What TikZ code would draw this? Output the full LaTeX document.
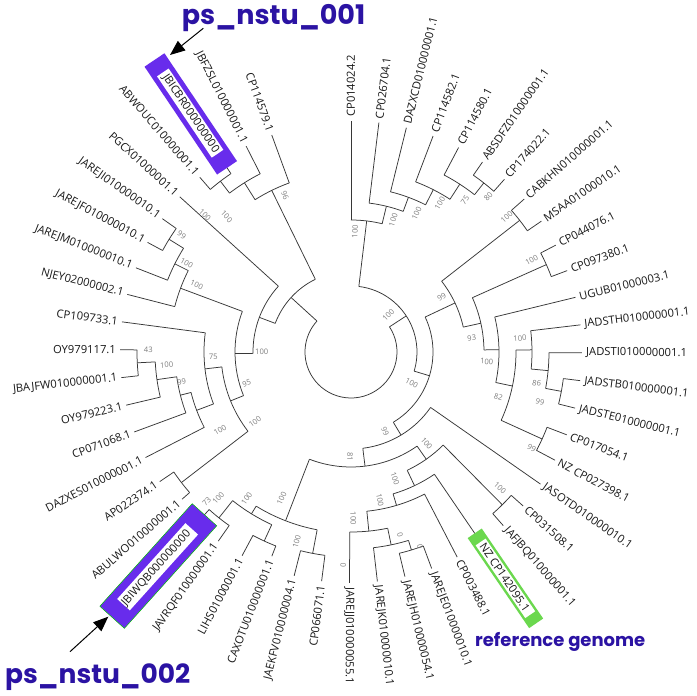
\documentclass[tikz,border=0pt]{standalone}
\usepackage{fontspec}
\setmainfont{Open Sans}
\newfontfamily\titlefont{Poppins}
\usetikzlibrary{arrows.meta}
\definecolor{titleblue}{RGB}{43,19,163}
\definecolor{boxpurple}{RGB}{104,44,236}
\definecolor{boxgreen}{RGB}{107,216,78}
\definecolor{treeline}{RGB}{55,55,55}
\definecolor{bootgray}{RGB}{125,125,125}
\definecolor{leafcol}{RGB}{25,25,25}
\tikzset{
  treebranch/.style={draw=treeline, line width=0.75pt},
  leaflab/.style={inner sep=0pt, text=leafcol, font=\fontsize{11.2}{13}\selectfont},
  bootlab/.style={inner sep=0pt, text=bootgray, font=\fontsize{7.6}{9}\selectfont},
  titletext/.style={inner sep=0pt, text=titleblue},
  callout/.style={draw=black, line width=1pt, -{Triangle[length=15pt,width=12pt]}},
  hibox/.style={inner sep=0pt, outer sep=0pt}
}
\newcommand\tbr[3]{\draw[treebranch] (#1:#2pt) -- (#1:#3pt);}
\newcommand\tarc[3]{\draw[treebranch] (#1:#3pt) arc[start angle=#1, end angle=#2, radius=#3pt];}
\newcommand\leaf[4]{%
  \pgfmathsetmacro\lside{(#2>-91)?1:0}%
  \ifdim\lside pt>0.5pt
    \node[leaflab, rotate=#2, anchor=west] (#1) at (#2:#4pt) {#3};%
  \else
    \node[leaflab, rotate=#2+180, anchor=east] (#1) at (#2:#4pt) {#3};%
  \fi}
\newcommand\boot[4]{%
  \pgfmathsetmacro\bang{atan2(352-#3,#2-351)}%
  \pgfmathsetmacro\brot{\bang>90 ? \bang-180 : (\bang<-91 ? \bang+180 : \bang)}%
  \node[bootlab, rotate=\brot] (#1) at ({#2-351},{352-#3}) {#4};}
\begin{document}
\begin{tikzpicture}[x=1pt,y=1pt]
\fill[white] (-351,-344) rectangle (346,352);
\useasboundingbox (-351,-344) rectangle (346,352);
% ---------------- tree ----------------
\tarc{33.16}{-222.29}{46}
% clade A
\tbr{33.16}{46}{66} \tarc{83.17}{-16.85}{66}
\tbr{83.17}{66}{132} \tarc{90}{76.35}{132}
\tbr{90}{132}{231}
\tbr{76.35}{132}{150} \tarc{83.06}{69.63}{150}
\tbr{83.06}{150}{231}
\tbr{69.63}{150}{165} \tarc{76.13}{63.12}{165}
\tbr{76.13}{165}{231}
\tbr{63.12}{165}{182} \tarc{69.19}{57.05}{182}
\tbr{69.19}{182}{231}
\tbr{57.05}{182}{200} \tarc{62.25}{51.85}{200}
\tbr{62.25}{200}{231}
\tbr{51.85}{200}{215} \tarc{55.31}{48.38}{215}
\tbr{55.31}{215}{231} \tbr{48.38}{215}{231}
\tbr{-16.85}{66}{82} \tarc{25.24}{-58.94}{82}
\tbr{25.24}{82}{115} \tarc{37.97}{12.5}{115}
\tbr{37.97}{115}{214} \tarc{41.44}{34.5}{214}
\tbr{41.44}{214}{231} \tbr{34.5}{214}{231}
\tbr{12.5}{115}{133} \tarc{24.1}{0.9}{133}
\tbr{24.1}{133}{214} \tarc{27.56}{20.63}{214}
\tbr{27.56}{214}{231} \tbr{20.63}{214}{231}
\tbr{0.9}{133}{148} \tarc{13.69}{-11.9}{148}
\tbr{13.69}{148}{231}
\tbr{-11.9}{148}{165} \tarc{0.68}{-24.47}{165}
\tbr{0.68}{165}{181} \tarc{6.75}{-5.4}{181}
\tbr{6.75}{181}{231}
\tbr{-5.4}{181}{198} \tarc{-0.19}{-10.6}{198}
\tbr{-0.19}{198}{231}
\tbr{-10.6}{198}{214} \tarc{-7.13}{-14.06}{214}
\tbr{-7.13}{214}{231} \tbr{-14.06}{214}{231}
\tbr{-24.47}{165}{210} \tarc{-21}{-27.94}{210}
\tbr{-21}{210}{231} \tbr{-27.94}{210}{231}
\tbr{-58.94}{82}{97} \tarc{-34.88}{-83.0}{97}
\tbr{-34.88}{97}{231}
\tbr{-83.0}{97}{115} \tarc{-54.93}{-111.19}{115}
\tbr{-54.93}{115}{131} \tarc{-45.28}{-64.58}{131}
\tbr{-45.28}{131}{215} \tarc{-41.81}{-48.75}{215}
\tbr{-41.81}{215}{231} \tbr{-48.75}{215}{231}
\tbr{-64.58}{131}{148} \tarc{-55.69}{-73.47}{148}
\tbr{-55.69}{148}{231}
\tbr{-73.47}{148}{160} \tarc{-62.63}{-84.31}{160}
\tbr{-62.63}{160}{231}
\tbr{-84.31}{160}{180} \tarc{-78.24}{-90.38}{180}
\tbr{-90.38}{180}{231}
\tbr{-78.24}{180}{197} \tarc{-73.03}{-83.44}{197}
\tbr{-83.44}{197}{231}
\tbr{-73.03}{197}{207} \tarc{-69.56}{-76.5}{207}
\tbr{-69.56}{207}{231} \tbr{-76.5}{207}{231}
\tbr{-111.19}{115}{181} \tarc{-100.78}{-121.6}{181}
\tbr{-100.78}{181}{205} \tarc{-97.31}{-104.25}{205}
\tbr{-97.31}{205}{231} \tbr{-104.25}{205}{231}
\tbr{-121.6}{181}{190} \tarc{-114.66}{-128.53}{190}
\tbr{-114.66}{190}{208} \tarc{-111.19}{-118.13}{208}
\tbr{-111.19}{208}{219} \tbr{-118.13}{208}{231}
\tbr{-128.53}{190}{212} \tarc{-125.06}{-132}{212}
\tbr{-125.06}{212}{231} \tbr{-132}{212}{231}
% clade B
\tbr{-222.29}{46}{81} \tarc{-243.87}{-200.7}{81}
\tbr{-243.87}{81}{180} \tarc{-237.8}{-249.94}{180}
\tbr{-249.94}{180}{231}
\tbr{-237.8}{180}{200} \tarc{-232.6}{-243}{200}
\tbr{-243}{200}{231}
\tbr{-232.6}{200}{215} \tarc{-229.13}{-236.06}{215}
\tbr{-229.13}{215}{231} \tbr{-236.06}{215}{231}
\tbr{-200.7}{81}{98} \tarc{-222.19}{-179.2}{98}
\tbr{-222.19}{98}{231}
\tbr{-179.2}{98}{116} \tarc{-200.51}{-157.9}{116}
\tbr{-200.51}{116}{182} \tarc{-194.44}{-206.58}{182}
\tbr{-194.44}{182}{231}
\tbr{-206.58}{182}{197} \tarc{-201.38}{-211.78}{197}
\tbr{-201.38}{197}{231}
\tbr{-211.78}{197}{214} \tarc{-208.31}{-215.25}{214}
\tbr{-208.31}{214}{231} \tbr{-215.25}{214}{231}
\tbr{-157.9}{116}{130} \tarc{-173.4}{-142.41}{130}
\tbr{-173.4}{130}{147} \tarc{-187.5}{-159.3}{147}
\tbr{-187.5}{147}{231}
\tbr{-159.3}{147}{165} \tarc{-165.8}{-152.81}{165}
\tbr{-152.81}{165}{231}
\tbr{-165.8}{165}{176} \tarc{-159.75}{-171.9}{176}
\tbr{-159.75}{176}{231}
\tbr{-171.9}{176}{196} \tarc{-166.69}{-177.1}{196}
\tbr{-166.69}{196}{231}
\tbr{-177.1}{196}{214} \tarc{-173.63}{-180.56}{214}
\tbr{-173.63}{214}{231} \tbr{-180.56}{214}{231}
\tbr{-142.41}{130}{214} \tarc{-145.88}{-138.94}{214}
\tbr{-145.88}{214}{231} \tbr{-138.94}{214}{224}
% ---------------- highlight boxes ----------------
\node[hibox, fill=boxpurple, minimum width=130pt, minimum height=24pt, rotate=-56.06] (bx1) at (-236.06:287pt) {};
\node[hibox, fill=white, minimum width=98pt, minimum height=14pt, rotate=-56.06] (bx1i) at (-236.06:288pt) {};
\node[hibox, fill=boxpurple, draw=green!75!black, line width=0.5pt, minimum width=138pt, minimum height=33pt, rotate=48] (bx2) at (-132:288pt) {};
\node[hibox, fill=white, minimum width=102pt, minimum height=17pt, rotate=48] (bx2i) at (-132:289pt) {};
\node[hibox, fill=boxgreen, minimum width=109pt, minimum height=17pt, rotate=-55.69] (bx3) at (-55.69:274pt) {};
\node[hibox, fill=white, minimum width=88pt, minimum height=12pt, rotate=-55.69] (bx3i) at (-55.69:274pt) {};
% ---------------- leaf labels ----------------
\leaf{l1}{90}{CP014024.2}{235}
\leaf{l2}{83.06}{CP026704.1}{235}
\leaf{l3}{76.13}{DAZXCD010000001.1}{235}
\leaf{l4}{69.19}{CP114582.1}{235}
\leaf{l5}{62.25}{CP114580.1}{235}
\leaf{l6}{55.31}{ABSDFZ010000001.1}{235}
\leaf{l7}{48.38}{CP174022.1}{235}
\leaf{l8}{41.44}{CABKHN010000001.1}{235}
\leaf{l9}{34.5}{MSAA01000010.1}{235}
\leaf{l10}{27.56}{CP044076.1}{235}
\leaf{l11}{20.63}{CP097380.1}{235}
\leaf{l12}{13.69}{UGUB01000003.1}{235}
\leaf{l13}{6.75}{JADSTH010000001.1}{235}
\leaf{l14}{-0.19}{JADSTI010000001.1}{235}
\leaf{l15}{-7.13}{JADSTB010000001.1}{235}
\leaf{l16}{-14.06}{JADSTE010000001.1}{235}
\leaf{l17}{-21}{CP017054.1}{235}
\leaf{l18}{-27.94}{NZ CP027398.1}{235}
\leaf{l19}{-34.88}{JASOTD010000010.1}{235}
\leaf{l20}{-41.81}{CP031508.1}{235}
\leaf{l21}{-48.75}{JAFJBQ010000001.1}{235}
\leaf{l22}{-55.69}{NZ CP142095.1}{233}
\leaf{l23}{-62.63}{CP003488.1}{235}
\leaf{l24}{-69.56}{JAREJE010000010.1}{235}
\leaf{l25}{-76.5}{JAREJH010000054.1}{235}
\leaf{l26}{-83.44}{JAREJK010000010.1}{235}
\leaf{l27}{-90.38}{JAREJJ010000055.1}{235}
\leaf{l28}{-97.31}{CP066071.1}{235}
\leaf{l29}{-104.25}{JAEKFV010000004.1}{235}
\leaf{l30}{-111.19}{CAXOTU010000001.1}{223}
\leaf{l31}{-118.13}{LIHS01000001.1}{235}
\leaf{l32}{-125.06}{JAVRQF010000001.1}{235}
\leaf{l33}{-132}{JBIWQB000000000}{242}
\leaf{l34}{-138.94}{ABULWO010000001.1}{228}
\leaf{l35}{-145.88}{AP022374.1}{235}
\leaf{l36}{-152.81}{DAZXES010000001.1}{235}
\leaf{l37}{-159.75}{CP071068.1}{235}
\leaf{l38}{-166.69}{OY979223.1}{235}
\leaf{l39}{-173.63}{JBAJFW010000001.1}{235}
\leaf{l40}{-180.56}{OY979117.1}{235}
\leaf{l41}{-187.5}{CP109733.1}{235}
\leaf{l42}{-194.44}{NJEY02000002.1}{235}
\leaf{l43}{-201.38}{JAREJM010000010.1}{235}
\leaf{l44}{-208.31}{JAREJF010000010.1}{235}
\leaf{l45}{-215.25}{JAREJI010000010.1}{235}
\leaf{l46}{-222.19}{PGCX01000001.1}{235}
\leaf{l47}{-229.13}{ABWOUC010000001.1}{235}
\leaf{l48}{-236.06}{JBICBR000000000}{241}
\leaf{l49}{-243}{JBFZSL010000001.1}{235}
\leaf{l50}{-249.94}{CP114579.1}{235}
% ---------------- bootstrap values ----------------
\boot{b1}{355}{231.7}{100}
\boot{b2}{393.3}{220}{100}
\boot{b3}{416.7}{213.3}{100}
\boot{b4}{440}{203.3}{100}
\boot{b5}{465}{200}{75}
\boot{b6}{488.3}{196.7}{80}
\boot{b7}{506.7}{216.7}{100}
\boot{b8}{441.7}{297.3}{99}
\boot{b9}{531.7}{260}{100}
\boot{b10}{471.7}{338.3}{93}
\boot{b11}{486.7}{361.7}{100}
\boot{b12}{498.3}{396.7}{82}
\boot{b13}{520}{338.3}{100}
\boot{b14}{536.7}{383.3}{86}
\boot{b15}{540}{401.7}{99}
\boot{b16}{531.7}{448.3}{99}
\boot{b17}{388.3}{315}{100}
\boot{b18}{411.7}{383.3}{100}
\boot{b19}{385}{431.7}{99}
\boot{b20}{350}{456.7}{81}
\boot{b21}{426.7}{443.3}{100}
\boot{b22}{500}{488.3}{100}
\boot{b23}{395}{478.3}{100}
\boot{b24}{380}{500}{100}
\boot{b25}{353.3}{518.3}{100}
\boot{b26}{400}{535}{0}
\boot{b27}{420}{546.7}{0}
\boot{b28}{343.3}{565}{0}
\boot{b29}{281.7}{498.3}{100}
\boot{b30}{296.7}{541.7}{100}
\boot{b31}{246.7}{498.3}{100}
\boot{b32}{218.3}{498.3}{100}
\boot{b33}{206.7}{501.7}{73}
\boot{b34}{220}{430}{100}
\boot{b35}{255}{421.7}{100}
\boot{b36}{246.7}{383.3}{95}
\boot{b37}{213.3}{356.7}{75}
\boot{b38}{181.7}{381.7}{99}
\boot{b39}{166.7}{365}{100}
\boot{b40}{148.3}{350}{43}
\boot{b41}{261.7}{351.7}{100}
\boot{b42}{196.7}{285}{100}
\boot{b43}{186.7}{263.3}{100}
\boot{b44}{181.7}{235}{99}
\boot{b45}{205}{215}{100}
\boot{b46}{226.7}{216.7}{100}
\boot{b47}{285}{195}{96}
% ---------------- titles and callouts ----------------
\node[titletext, anchor=base west, font={\titlefont\bfseries\fontsize{27}{32}\selectfont}] (t1) at (-169.3,327) {ps\_nstu\_001};
\node[titletext, anchor=base west, font={\titlefont\bfseries\fontsize{26.5}{31}\selectfont}] (t2) at (-346,-331) {ps\_nstu\_002};
\node[titletext, anchor=base west, font={\titlefont\bfseries\fontsize{18}{21}\selectfont}] (t3) at (124,-294.7) {reference genome};
\coordinate (a1s) at (-147.7,323.7);
\coordinate (a1e) at (-181,297);
\draw[callout] (a1s) -- (a1e);
\coordinate (a2s) at (-281,-299.7);
\coordinate (a2e) at (-242.7,-264.7);
\draw[callout] (a2s) -- (a2e);
\end{tikzpicture}
\end{document}
